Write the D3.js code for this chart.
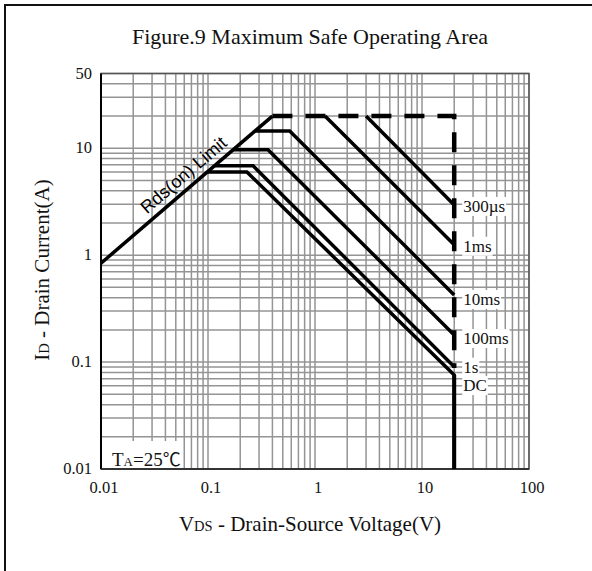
<!DOCTYPE html>
<html><head><meta charset="utf-8">
<script src="https://cdn.jsdelivr.net/npm/d3@7"></script>
<style>
html,body{margin:0;padding:0;background:#fff;}
svg{display:block;}
text{font-family:"Liberation Serif","Times New Roman",serif;fill:#111;}
</style></head>
<body>
<svg id="chart" width="592" height="571"></svg>
<script>
// ---------- data ----------
const xTickValues = [0.01, 0.1, 1, 10, 100];
const xTickLabels = ["0.01", "0.1", "1", "10", "100"];
const yTickValues = [0.01, 0.1, 1, 10, 50];
const yTickLabels = ["0.01", "0.1", "1", "10", "50"];

const rdsLimit = [[0.01, 0.84], [0.40, 20]];
const envelope = [[0.40, 20], [20, 20], [20, 0.088]];

const seriesNames = ["300\u00b5s", "1ms", "10ms", "100ms", "1s", "DC"];
const series300us = [[3.0, 20], [20, 2.95]];
const series1ms   = [[1.24, 20], [20, 1.25]];
const series10ms  = [[0.275, 14.5], [0.58, 14.5], [20, 0.425]];
const series100ms = [[0.171, 9.7], [0.364, 9.7], [20, 0.179]];
const series1s    = [[0.116, 6.85], [0.264, 6.85], [20, 0.0906]];
const seriesDC    = [[0.098, 6.0], [0.231, 6.0], [20, 0.0756], [20, 0.01]];
const allSeries = [series300us, series1ms, series10ms, series100ms, series1s, seriesDC];
const labelCurrents = [2.95, 1.25, 0.425, 0.179, 0.0906, 0.0756];

// ---------- layout ----------
const svg = d3.select("#chart");
const L = 101, R = 529, T = 73.5, B = 469;
const x = d3.scaleLog().domain([0.01, 100]).range([L, R]);
const y = d3.scaleLog().domain([0.01, 50]).range([B, T]);

svg.append("rect").attr("x", 5).attr("y", 5).attr("width", 640).attr("height", 640)
  .attr("fill", "none").attr("stroke", "#111").attr("stroke-width", 2);

svg.append("text").attr("x", 310).attr("y", 44).attr("text-anchor", "middle")
  .style("font-size", "22px").text("Figure.9 Maximum Safe Operating Area");

const g = svg.append("g");
g.selectAll("line.vx").data(x.ticks()).join("line")
  .attr("x1", d => x(d)).attr("x2", d => x(d)).attr("y1", T).attr("y2", B)
  .attr("stroke", "#949494").attr("stroke-width", 1.5);
g.selectAll("line.hy").data(y.ticks().filter(d => d <= 50)).join("line")
  .attr("y1", d => y(d)).attr("y2", d => y(d)).attr("x1", L).attr("x2", R)
  .attr("stroke", "#949494").attr("stroke-width", 1.5);

svg.append("rect").attr("x", L).attr("y", T).attr("width", R - L).attr("height", B - T)
  .attr("fill", "none").attr("stroke", "#555").attr("stroke-width", 1.5);
svg.append("line").attr("x1", L).attr("x2", L).attr("y1", T).attr("y2", B)
  .attr("stroke", "#000").attr("stroke-width", 2);
svg.append("line").attr("x1", L).attr("x2", R).attr("y1", B).attr("y2", B)
  .attr("stroke", "#222").attr("stroke-width", 1.5);

svg.append("g").selectAll("text").data(xTickValues).join("text")
  .attr("x", d => x(d) + 3).attr("y", 493).attr("text-anchor", "middle")
  .style("font-size", "16.5px").text((d, i) => xTickLabels[i]);
svg.append("g").selectAll("text").data(yTickValues).join("text")
  .attr("x", L - 9).attr("y", d => y(d) + 5).attr("text-anchor", "end")
  .style("font-size", "16.5px").text((d, i) => yTickLabels[i]);

const xt = svg.append("text").attr("x", 310).attr("y", 531).attr("text-anchor", "middle")
  .style("font-size", "21px");
xt.append("tspan").text("V");
xt.append("tspan").style("font-size", "14.5px").text("DS");
xt.append("tspan").text(" - Drain-Source Voltage(V)");

const yt = svg.append("text").attr("transform", "translate(49,270) rotate(-90)")
  .attr("text-anchor", "middle").style("font-size", "21px");
yt.append("tspan").text("I");
yt.append("tspan").style("font-size", "14.5px").text("D");
yt.append("tspan").text(" - Drain Current(A)");

svg.append("rect").attr("x", 103).attr("y", 441).attr("width", 80).attr("height", 27).attr("fill", "#fff");
const ta = svg.append("text").attr("x", 112).attr("y", 466).style("font-size", "19px");
ta.append("tspan").text("T");
ta.append("tspan").style("font-size", "13px").text("A");
ta.append("tspan").text("=25");
ta.append("tspan").style("font-family", "'Noto Sans CJK SC'").style("font-size", "18px").text("\u2103");

const line = d3.line().x(d => x(d[0])).y(d => y(d[1]));
svg.append("path").attr("d", line(envelope)).attr("fill", "none")
  .attr("stroke", "#000").attr("stroke-width", 4.5).attr("stroke-dasharray", "20,13");
svg.append("path").attr("d", line(rdsLimit)).attr("fill", "none")
  .attr("stroke", "#000").attr("stroke-width", 3.5);
svg.append("g").selectAll("path").data(allSeries).join("path")
  .attr("d", d => line(d)).attr("fill", "none").attr("stroke", "#000")
  .attr("stroke-width", 3.5).attr("stroke-linejoin", "miter");
svg.append("path").attr("d", line(seriesDC.slice(2))).attr("fill", "none")
  .attr("stroke", "#000").attr("stroke-width", 4);

const p0 = [x(rdsLimit[0][0]), y(rdsLimit[0][1])], p1 = [x(rdsLimit[1][0]), y(rdsLimit[1][1])];
const ang = Math.atan2(p1[1] - p0[1], p1[0] - p0[0]) * 180 / Math.PI;
const vAt = 0.071, iAt = rdsLimit[0][1] * Math.pow(vAt / rdsLimit[0][0],
  Math.log(rdsLimit[1][1] / rdsLimit[0][1]) / Math.log(rdsLimit[1][0] / rdsLimit[0][0]));
svg.append("text").attr("transform", `translate(${x(vAt)},${y(iAt)}) rotate(${ang})`)
  .attr("y", -7).attr("text-anchor", "middle")
  .style("font-family", "'Liberation Sans',Arial,sans-serif").style("font-size", "18px")
  .style("fill", "#000").text("Rds(on) Limit");

const labelDy = [7, 7, 10, 9, 6, 16];
const lg = svg.append("g");
seriesNames.forEach((name, i) => {
  const t = lg.append("text").attr("x", x(20) + 9).attr("y", y(labelCurrents[i]) + labelDy[i])
    .style("font-size", "17px").text(name);
  const bb = t.node().getBBox();
  lg.insert("rect", "text").attr("x", bb.x - 1).attr("y", bb.y).attr("width", bb.width + 2)
    .attr("height", bb.height).attr("fill", "#fff");
});
</script>
</body></html>
